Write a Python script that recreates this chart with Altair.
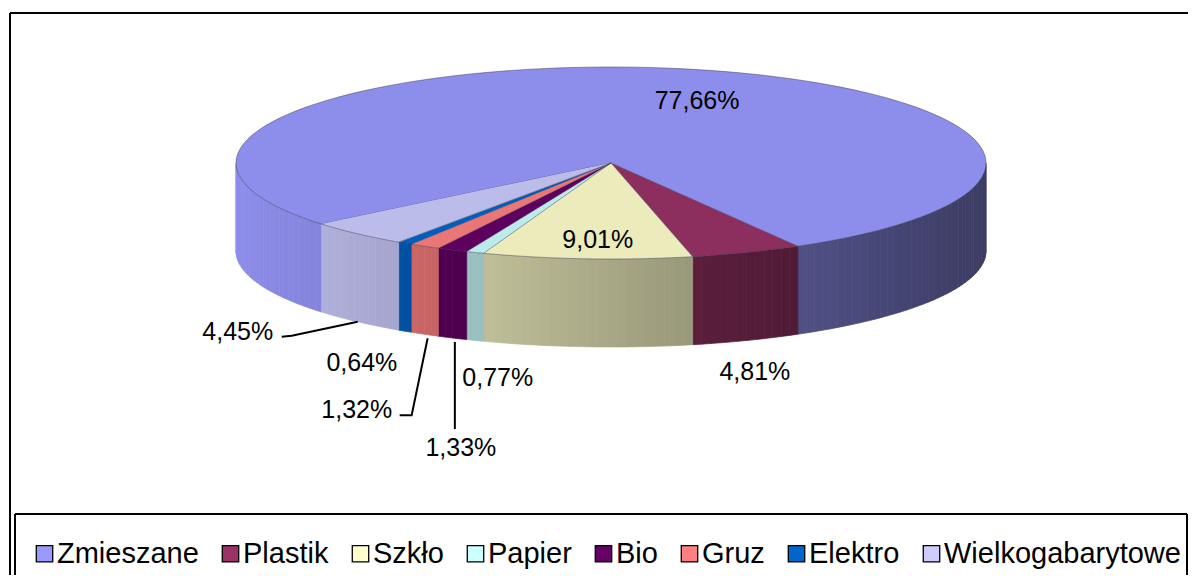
import altair as alt

# ---------------- data ----------------
CATEGORIES = ["Zmieszane", "Plastik", "Szkło", "Papier", "Bio", "Gruz", "Elektro", "Wielkogabarytowe"]
VALUES = [77.66, 4.81, 9.01, 0.77, 1.33, 1.32, 0.64, 4.45]
COLORS = ["#9999FF", "#993366", "#FFFFCC", "#CCFFFF", "#660066", "#FF8080", "#0066CC", "#CCCCFF"]
LABELS = [f"{v:.2f}".replace(".", ",") + "%" for v in VALUES]

# ---------------- layout (pixels) ----------------
START_DEG = 230.5            # angle of first slice, clockwise from 12 o'clock
CX, CY = 603, 155            # centre of the top face (chart coordinates)
A_PX, B_PX, DEPTH_PX = 375, 96, 88
D = DEPTH_PX / B_PX
N_TOP = 120
LABEL_DX = [19, 8, 10.6, 22.7, 8.5, -67.9, -43.1, -119.9]
LABEL_DY = [32.5, 119.5, -18.8, 125.5, 198, 163.7, 119.8, 98.2]
LEADER_DX = [[], [], [], [], [2.5, 2.5], [3, -13, -25], [], [0, -66, -76]]
LEADER_DY = [[], [], [], [], [4, 91], [4, 81, 81], [], [0, 14, 15]]
FONT = "Liberation Sans"


def hex_rgb(h):
    h = h.lstrip("#")
    return int(h[0:2], 16), int(h[2:4], 16), int(h[4:6], 16)


records = []
for i, (c, v, col, lab) in enumerate(zip(CATEGORIES, VALUES, COLORS, LABELS)):
    r, g, b = hex_rgb(col)
    records.append(dict(cat=c, value=v, idx=i, label=lab, r=r, g=g, b=b,
                        ldx=LABEL_DX[i], ldy=LABEL_DY[i],
                        lx=LEADER_DX[i], ly=LEADER_DY[i],
                        lk=list(range(len(LEADER_DX[i])))))
data = alt.InlineData(values=records)

X_SCALE = alt.Scale(domain=[-1, 1], range=[CX - A_PX, CX + A_PX], zero=False, nice=False)
Y_SCALE = alt.Scale(domain=[-1, 1], range=[CY + B_PX, CY - B_PX], zero=False, nice=False)
xenc = lambda f: alt.X(f, type="quantitative", scale=X_SCALE, axis=None)
yenc = lambda f: alt.Y(f, type="quantitative", scale=Y_SCALE, axis=None)

base = (
    alt.Chart(data)
    .transform_joinaggregate(total="sum(value)")
    .transform_window(cum="sum(value)", sort=[alt.SortField("idx")], frame=[None, 0])
    .transform_calculate(
        a0=f"{START_DEG}*PI/180 + 2*PI*(datum.cum - datum.value)/datum.total",
        a1=f"{START_DEG}*PI/180 + 2*PI*datum.cum/datum.total",
    )
    .transform_calculate(am="(datum.a0 + datum.a1)/2")
)

# ---- side walls (front half only), split into small shaded segments ----
sides = (
    base.transform_calculate(win="[PI/2, 5*PI/2]")
    .transform_flatten(["win"])
    .transform_calculate(s="max(datum.a0, datum.win)", e="min(datum.a1, datum.win + PI)")
    .transform_filter("datum.e > datum.s")
    .transform_calculate(nseg="max(1, ceil((datum.e - datum.s)/(1.5*PI/180)))")
    .transform_calculate(seg="sequence(0, datum.nseg)")
    .transform_flatten(["seg"])
    .transform_calculate(corner="sequence(0, 4)")
    .transform_flatten(["corner"])
    .transform_calculate(
        sa="datum.s + (datum.e - datum.s)*datum.seg/datum.nseg",
        sb="datum.s + (datum.e - datum.s)*(datum.seg + 1)/datum.nseg",
    )
    .transform_calculate(
        ang="(datum.corner == 0 || datum.corner == 3) ? datum.sa : datum.sb",
        mid="(datum.sa + datum.sb)/2",
    )
    .transform_calculate(
        X="sin(datum.ang)",
        Y=f"cos(datum.ang) - (datum.corner >= 2 ? {D} : 0)",
        sh="0.655 - 0.265*sin(datum.mid)",
        key="datum.cat + '|' + datum.win + '|' + datum.seg",
    )
    .transform_calculate(
        sfill="'rgb(' + round(datum.r*datum.sh) + ',' + round(datum.g*datum.sh) + ',' + round(datum.b*datum.sh) + ')'"
    )
    .mark_line(filled=True, strokeWidth=0.7, interpolate="linear-closed")
    .encode(
        x=xenc("X"), y=yenc("Y"),
        order=alt.Order("corner:Q"),
        detail=alt.Detail("key:N"),
        fill=alt.Fill("sfill:N", scale=None),
        stroke=alt.Stroke("sfill:N", scale=None),
    )
)

# ---- top faces ----
tops = (
    base.transform_calculate(pts=f"sequence(0, {N_TOP + 2})")
    .transform_flatten(["pts"])
    .transform_calculate(ang=f"datum.a0 + (datum.a1 - datum.a0)*(datum.pts - 1)/{N_TOP}")
    .transform_calculate(
        X="datum.pts == 0 ? 0 : sin(datum.ang)",
        Y="datum.pts == 0 ? 0 : cos(datum.ang)",
        tfill="'rgb(' + round(datum.r*0.92) + ',' + round(datum.g*0.92) + ',' + round(datum.b*0.92) + ')'",
    )
    .mark_line(filled=True, stroke="#3c3c55", strokeWidth=0.7, strokeOpacity=0.7, interpolate="linear")
    .encode(
        x=xenc("X"), y=yenc("Y"),
        order=alt.Order("pts:Q"),
        detail=alt.Detail("cat:N"),
        fill=alt.Fill("tfill:N", scale=None),
    )
)

# ---- leader lines ----
leaders = (
    base.transform_flatten(["lx", "ly", "lk"], as_=["lx1", "ly1", "lk1"])
    .transform_calculate(
        X=f"sin(datum.am) + datum.lx1/{A_PX}",
        Y=f"cos(datum.am) - {D} - datum.ly1/{B_PX}",
    )
    .mark_line(color="black", strokeWidth=2, interpolate="linear")
    .encode(x=xenc("X"), y=yenc("Y"), order=alt.Order("lk1:Q"), detail=alt.Detail("cat:N"))
)

# ---- value labels ----
labels = (
    base.transform_calculate(
        X=f"sin(datum.am) + datum.ldx/{A_PX}",
        Y=f"cos(datum.am) - datum.ldy/{B_PX}",
    )
    .mark_text(font=FONT, fontSize=25, color="black", align="center", baseline="middle")
    .encode(x=xenc("X"), y=yenc("Y"), text=alt.Text("label:N"))
)

# ---- legend (from an empty layer sharing the colour scale) ----
legend_layer = (
    alt.Chart(data)
    .transform_filter("false")
    .mark_square(opacity=1, stroke="black", strokeWidth=1.3)
    .encode(
        color=alt.Color(
            "cat:N",
            scale=alt.Scale(domain=CATEGORIES, range=COLORS),
            legend=alt.Legend(
                orient="none", legendX=22, legendY=531, direction="horizontal", columns=8,
                title=None, symbolType="square", symbolSize=270,
                symbolStrokeColor="black", symbolStrokeWidth=1.3, symbolOpacity=1,
                labelFont=FONT, labelFontSize=29, labelColor="black",
                labelOffset={"expr": "-2"},
                columnPadding=17, labelLimit=0, padding=0,
            ),
        )
    )
)

# ---- frame lines ----
one = alt.InlineData(values=[{"k": 1}])
frame = [
    alt.Chart(one).mark_rule(color="black", strokeWidth=2).encode(x=alt.value(2), y=alt.value(5), y2=alt.value(567)),
    alt.Chart(one).mark_rule(color="black", strokeWidth=2).encode(x=alt.value(2), x2=alt.value(1180), y=alt.value(5)),
    alt.Chart(one).mark_rule(color="black", strokeWidth=2).encode(x=alt.value(7), y=alt.value(506), y2=alt.value(567)),
    alt.Chart(one).mark_rule(color="black", strokeWidth=2).encode(x=alt.value(7), x2=alt.value(1179), y=alt.value(506)),
    alt.Chart(one).mark_rule(color="black", strokeWidth=2).encode(x=alt.value(1179), y=alt.value(506), y2=alt.value(567)),
]

chart = (
    alt.layer(*frame, sides, tops, leaders, labels, legend_layer)
    .properties(width=1180, height=567, autosize=alt.AutoSizeParams(type="none"), padding=0)
    .configure_view(stroke=None)
)

chart.save("out.html", embed_options={"renderer": "svg", "actions": False})
